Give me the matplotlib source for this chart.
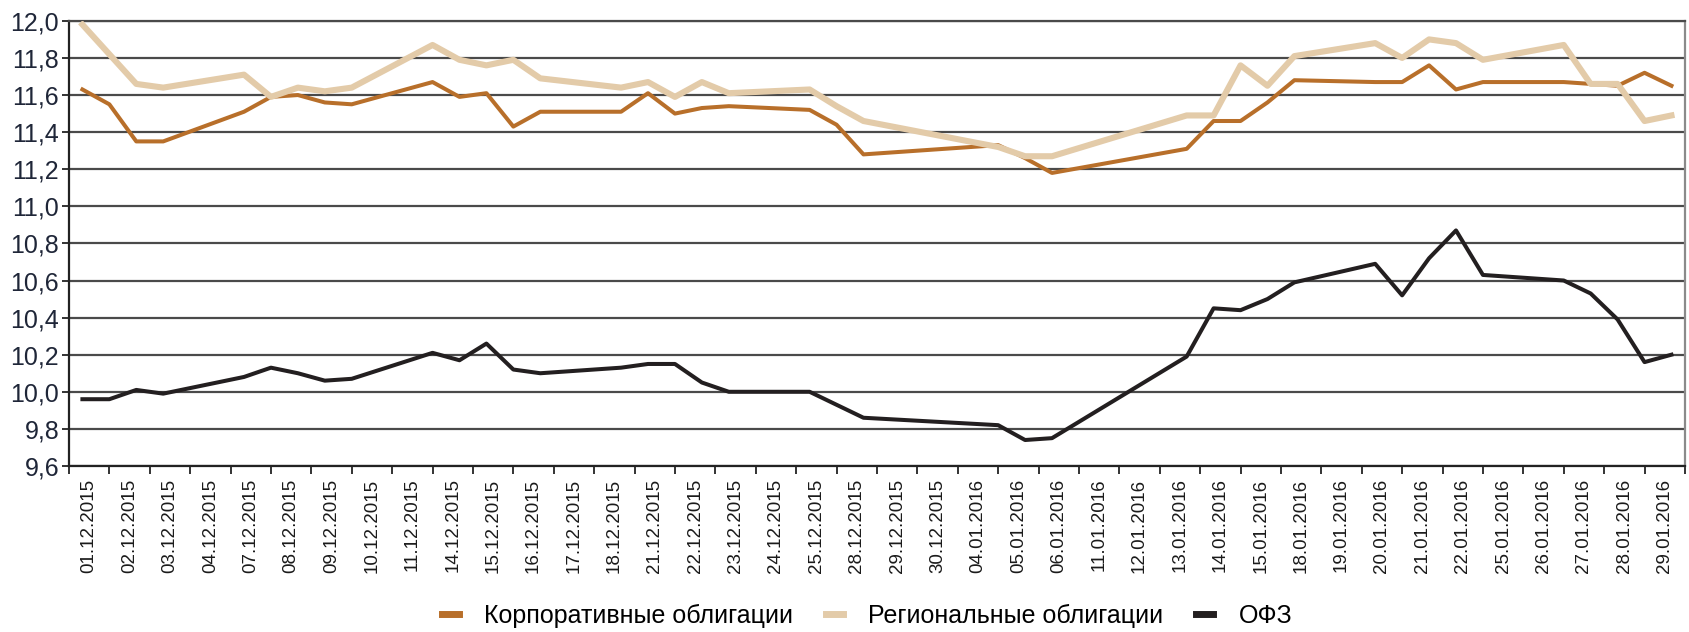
import datetime as dt
import numpy as np
import matplotlib
matplotlib.use("Agg")
import matplotlib.pyplot as plt
from matplotlib.ticker import FixedLocator, FuncFormatter

plt.rcParams['font.family'] = ['Liberation Sans Narrow', 'Liberation Sans', 'DejaVu Sans']

# торговые дни (подписи оси X)
dates = ["01.12.2015", "02.12.2015", "03.12.2015", "04.12.2015", "07.12.2015",
         "08.12.2015", "09.12.2015", "10.12.2015", "11.12.2015", "14.12.2015",
         "15.12.2015", "16.12.2015", "17.12.2015", "18.12.2015", "21.12.2015",
         "22.12.2015", "23.12.2015", "24.12.2015", "25.12.2015", "28.12.2015",
         "29.12.2015", "30.12.2015", "04.01.2016", "05.01.2016", "06.01.2016",
         "11.01.2016", "12.01.2016", "13.01.2016", "14.01.2016", "15.01.2016",
         "18.01.2016", "19.01.2016", "20.01.2016", "21.01.2016", "22.01.2016",
         "25.01.2016", "26.01.2016", "27.01.2016", "28.01.2016", "29.01.2016"]

corporate = [11.63, 11.55, 11.35, 11.35, 11.51, 11.59, 11.60, 11.56, 11.55, 11.67,
             11.59, 11.61, 11.43, 11.51, 11.51, 11.61, 11.50, 11.53, 11.54, 11.52,
             11.44, 11.28, 11.33, 11.26, 11.18, 11.31, 11.46, 11.46, 11.56, 11.68,
             11.67, 11.67, 11.76, 11.63, 11.67, 11.67, 11.66, 11.65, 11.72, 11.65]

regional = [11.98, 11.82, 11.66, 11.64, 11.71, 11.59, 11.64, 11.62, 11.64, 11.87,
            11.79, 11.76, 11.79, 11.69, 11.64, 11.67, 11.59, 11.67, 11.61, 11.63,
            11.54, 11.46, 11.32, 11.27, 11.27, 11.49, 11.49, 11.76, 11.65, 11.81,
            11.88, 11.80, 11.90, 11.88, 11.79, 11.87, 11.66, 11.66, 11.46, 11.49]

ofz = [9.96, 9.96, 10.01, 9.99, 10.08, 10.13, 10.10, 10.06, 10.07, 10.21,
       10.17, 10.26, 10.12, 10.10, 10.13, 10.15, 10.15, 10.05, 10.00, 10.00,
       9.93, 9.86, 9.82, 9.74, 9.75, 10.19, 10.45, 10.44, 10.50, 10.59,
       10.69, 10.52, 10.72, 10.87, 10.63, 10.60, 10.53, 10.39, 10.16, 10.20]

y_ticks = [9.6, 9.8, 10.0, 10.2, 10.4, 10.6, 10.8, 11.0, 11.2, 11.4, 11.6, 11.8, 12.0]

# календарные дни от 01.12.2015 (точки стоят по календарю, выходные - прямым отрезком)
d = [dt.datetime.strptime(s, "%d.%m.%Y") for s in dates]
x = np.array([(di - d[0]).days for di in d]) + 0.5
n_days = (d[-1] - d[0]).days + 1

fig = plt.figure(figsize=(16.9, 6.32), dpi=100)
ax = fig.add_axes([0.0408, 0.2627, 0.9562, 0.7043])

ax.plot(x, corporate, color='#b86f2a', lw=2.9, label='Корпоративные облигации', zorder=3)
ax.plot(x, regional, color='#e3cba9', lw=4.4, label='Региональные облигации', zorder=4)
ax.plot(x, ofz, color='#231f20', lw=2.9, label='ОФЗ', zorder=5)

ax.set_xlim(0, n_days)
ax.set_ylim(9.6, 12.0)
ax.set_yticks(y_ticks)
ax.yaxis.set_major_formatter(FuncFormatter(lambda v, p: f"{v:.1f}".replace('.', ',')))
ax.grid(axis='y', color='#4a4a4a', lw=1.6, zorder=1)

# подписи - равномерно по торговым дням, деления между ними
step = n_days / len(dates)
ax.xaxis.set_major_locator(FixedLocator([(j + 0.5) * step for j in range(len(dates))]))
ax.xaxis.set_minor_locator(FixedLocator([j * step for j in range(len(dates) + 1)]))
ax.set_xticklabels(dates, rotation=90, fontsize=13.5, color='#1a1a1a')
ax.tick_params(axis='x', which='major', length=0, pad=9)
ax.tick_params(axis='x', which='minor', length=6, width=1.4, color='#333333', direction='out')
ax.tick_params(axis='y', length=5, width=1.4, color='#333333', labelsize=18,
               labelcolor='#1f2638', pad=2)

for side in ['left', 'bottom']:
    ax.spines[side].set_color('#222222')
    ax.spines[side].set_linewidth(1.6)
ax.spines['top'].set_color('#4a4a4a')
ax.spines['top'].set_linewidth(1.6)
ax.spines['right'].set_color('#8a8a8a')
ax.spines['right'].set_linewidth(1.6)

fig.legend(loc='center', bbox_to_anchor=(0.513, 0.026), ncol=3, frameon=False,
           fontsize=18, handlelength=0.7, handletextpad=1.0, columnspacing=1.3)
leg = fig.legends[0]
for h in leg.get_lines():
    h.set_linewidth(5)

fig.savefig('out.png', dpi=100)
